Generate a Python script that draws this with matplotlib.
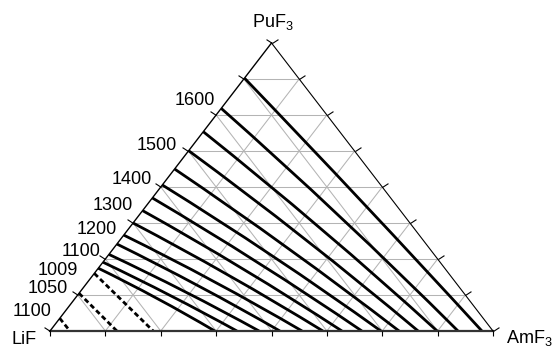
import numpy as np
import matplotlib
matplotlib.use("Agg")
import matplotlib.pyplot as plt
from matplotlib.path import Path
from matplotlib.patches import PathPatch

plt.rcParams["font.family"] = "Liberation Sans"
plt.rcParams["mathtext.fontset"] = "custom"
plt.rcParams["mathtext.rm"] = "Liberation Sans"

####### DATA (mole fractions AmF3 / PuF3, rest is LiF) #######
# solid isotherms: start on LiF-PuF3 side, a point near the middle, end on LiF-AmF3 side
iso_start_pu = [0.878, 0.773, 0.692, 0.626, 0.5625, 0.507, 0.462,
                0.418, 0.375, 0.333, 0.302, 0.266, 0.239, 0.218]
iso_mid_am = [0.488, 0.461, 0.4375, 0.415, 0.3935, 0.373, 0.3515,
              0.329, 0.3075, 0.284, 0.259, 0.235, 0.2105, 0.1855]
iso_mid_pu = [0.4415, 0.393, 0.3525, 0.320, 0.2875, 0.260, 0.237,
              0.215, 0.193, 0.172, 0.1555, 0.1375, 0.123, 0.113]
iso_end_am = [0.975, 0.921, 0.874, 0.831, 0.788, 0.747, 0.704,
              0.659, 0.616, 0.569, 0.519, 0.472, 0.422, 0.372]

# dashed lines in the LiF field
dash_start_pu = [0.044, 0.131, 0.200]
dash_end_am = [0.045, 0.151, 0.233]

# temperature labels (deg C) down the left side
temp_labels = ["1600", "1500", "1400", "1300", "1200", "1100", "1009", "1050", "1100"]
corner_labels = ["LiF", "AmF$_3$", "PuF$_3$"]

####### LAYOUT #######
# right / baseline anchor of each temperature label (axes fraction)
label_x = [0.3725, 0.286, 0.2296, 0.188, 0.1506, 0.1129, 0.0639, 0.0413, 0.0038]
label_y = [0.7847, 0.6285, 0.5094, 0.4201, 0.3358, 0.2604, 0.1944, 0.1309, 0.0521]
n_div = 8


def tern(am, pu):
    am = np.asarray(am, dtype=float)
    pu = np.asarray(pu, dtype=float)
    return am + pu / 2, pu


fig = plt.figure(figsize=(5.53, 3.48), dpi=100)
ax = fig.add_axes([50 / 553, 17 / 348, 443 / 553, 288 / 348])
ax.set_xlim(0, 1)
ax.set_ylim(0, 1)
ax.axis("off")

# grey grid
for f in np.arange(1, n_div) / n_div:
    for a0, p0, a1, p1 in [(0, f, 1 - f, f), (f, 0, f, 1 - f), (1 - f, 0, 0, 1 - f)]:
        x, y = tern([a0, a1], [p0, p1])
        ax.plot(x, y, color="#b4b4b4", lw=0.75, zorder=1, clip_on=False)

# triangle sides
ax.plot(*tern([0, 1], [0, 0]), color="#333333", lw=1.6, zorder=4, clip_on=False)
ax.plot(*tern([0, 0], [0, 1]), color="k", lw=1.0, zorder=4, clip_on=False)
ax.plot(*tern([1, 0], [0, 1]), color="k", lw=0.8, zorder=4, clip_on=False)


# ticks
def tick_marker(angle_deg):
    t = np.radians(angle_deg)
    return Path([(0, 0), (np.cos(t), np.sin(t))])


fr = np.arange(n_div + 1) / n_div
tick_kw = dict(ls="none", mfc="none", mec="k", mew=0.8, clip_on=False, zorder=4)
ax.plot(*tern(fr, 0 * fr), marker=tick_marker(-90), ms=7.5, **tick_kw)
ax.plot(*tern(0 * fr, fr), marker=tick_marker(147), ms=8.6, **tick_kw)
ax.plot(*tern(1 - fr, fr), marker=tick_marker(33), ms=8.6, **tick_kw)

# solid isotherms
for ps, am_m, pu_m, ae in zip(iso_start_pu, iso_mid_am, iso_mid_pu, iso_end_am):
    S = np.array(tern(0, ps))
    M = np.array(tern(am_m, pu_m))
    E = np.array(tern(ae, 0))
    C = 2 * M - (S + E) / 2
    path = Path([S, C, E], [Path.MOVETO, Path.CURVE3, Path.CURVE3])
    ax.add_patch(PathPatch(path, fill=False, lw=2.0, ec="k", capstyle="butt", zorder=3))

# dashed isotherms
for ps, ae in zip(dash_start_pu, dash_end_am):
    ax.plot(*tern([0, ae], [ps, 0]), color="k", lw=2.0, ls=(0, (1.8, 1.1)),
            dash_capstyle="butt", zorder=3)

# temperature labels
for txt, x, y in zip(temp_labels, label_x, label_y):
    ax.text(x, y, txt, ha="right", va="baseline", fontsize=13)

# corner labels
ax.text(-0.0865, -0.0451, corner_labels[0], ha="left", va="baseline", fontsize=13)
ax.text(1.0295, -0.0417, corner_labels[1], ha="left", va="baseline", fontsize=13)
ax.text(0.504, 1.0566, corner_labels[2], ha="center", va="baseline", fontsize=13)

fig.savefig("out.png", dpi=100)
